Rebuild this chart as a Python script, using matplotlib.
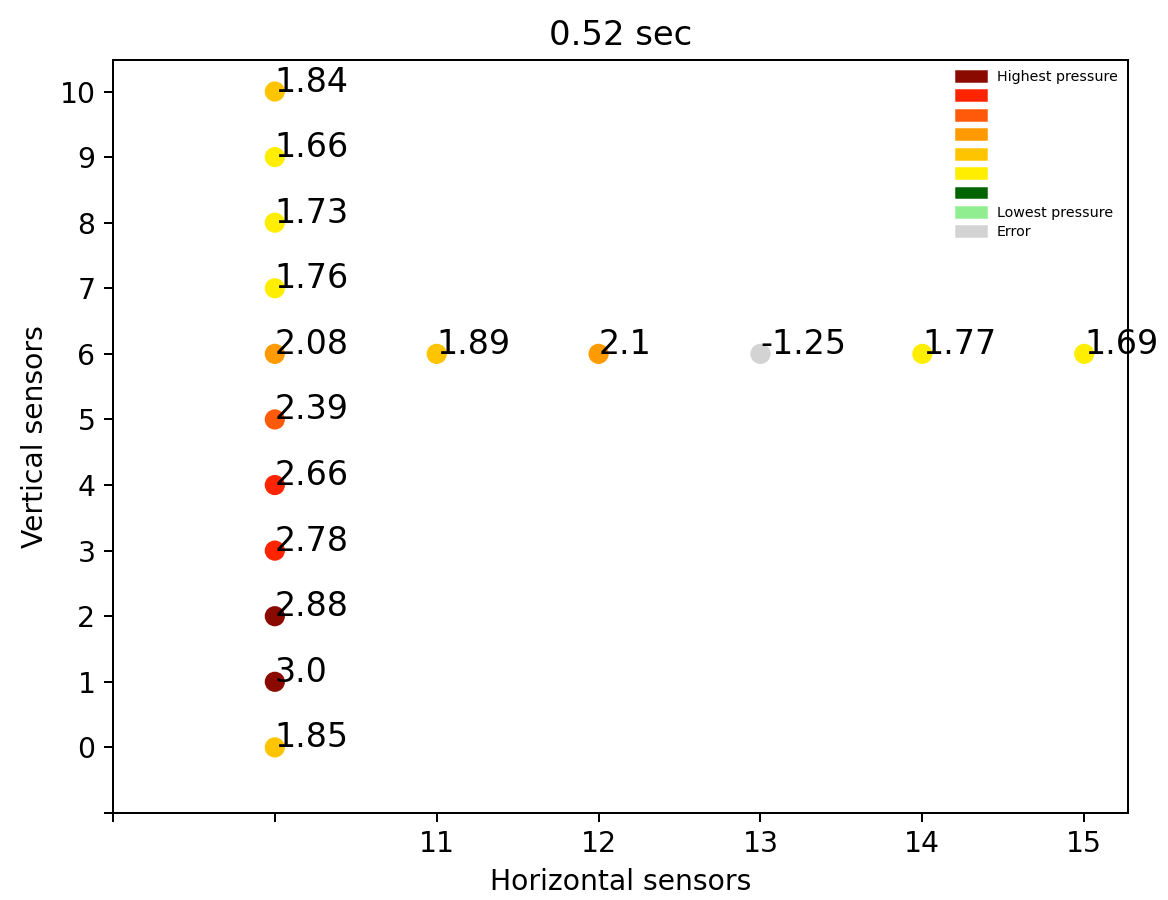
import matplotlib
matplotlib.use('Agg')
from matplotlib import pyplot as plt
from matplotlib.patches import Patch

# sensor readings at 0.52 sec
vertical_y = [0, 1, 2, 3, 4, 5, 6, 7, 8, 9, 10]
vertical_vals = [1.85, 3.0, 2.88, 2.78, 2.66, 2.39, 2.08, 1.76, 1.73, 1.66, 1.84]
horizontal_x = [11, 12, 13, 14, 15]
horizontal_vals = [1.89, 2.1, -1.25, 1.77, 1.69]
vertical_x = 10
horizontal_y = 6

x_ticks = [9, 10, 11, 12, 13, 14, 15]
x_tick_labels = ['', '', '11', '12', '13', '14', '15']
y_ticks = list(range(-1, 11))
y_tick_labels = [''] + [str(i) for i in range(0, 11)]

legend_colors = ['#8b0a00', '#ff2400', '#ff5a0a', '#ff9a00', '#ffc400',
                 '#ffee00', '#006400', '#90ee90', '#d3d3d3']
legend_labels = ['Highest pressure', '', '', '', '', '', '', 'Lowest pressure', 'Error']
# lower bounds for each colour band (top to bottom)
bands = [2.8, 2.5, 2.2, 2.0, 1.8, 1.5, 1.0, 0.0]


def pressure_color(v):
    for bound, col in zip(bands, legend_colors):
        if v >= bound:
            return col
    return legend_colors[-1]  # negative reading = error


plt.rcParams['font.size'] = 11.3

fig = plt.figure(figsize=(11.68 / 1.8, 9 / 1.8), dpi=180)
ax = fig.add_axes([0.0967, 0.0967, 0.869, 0.8366])

xs = [vertical_x] * len(vertical_y) + horizontal_x
ys = vertical_y + [horizontal_y] * len(horizontal_x)
vals = vertical_vals + horizontal_vals

ax.scatter(xs, ys, c=[pressure_color(v) for v in vals], s=50, zorder=3)
for x, y, v in zip(xs, ys, vals):
    ax.text(x, y, str(v), fontsize=13.3)

ax.set_xlim(9, 15.27)
ax.set_ylim(-1, 10.48)
ax.set_xticks(x_ticks)
ax.set_xticklabels(x_tick_labels)
ax.set_yticks(y_ticks)
ax.set_yticklabels(y_tick_labels)
ax.set_xlabel('Horizontal sensors')
ax.set_ylabel('Vertical sensors')
ax.set_title('0.52 sec')

handles = [Patch(color=c, label=l) for c, l in zip(legend_colors, legend_labels)]
ax.legend(handles=handles, loc='upper right', fontsize=5.7, frameon=False,
          labelspacing=0.38, handlelength=2.1, borderaxespad=0.3)

fig.savefig('out.png', dpi=180)
